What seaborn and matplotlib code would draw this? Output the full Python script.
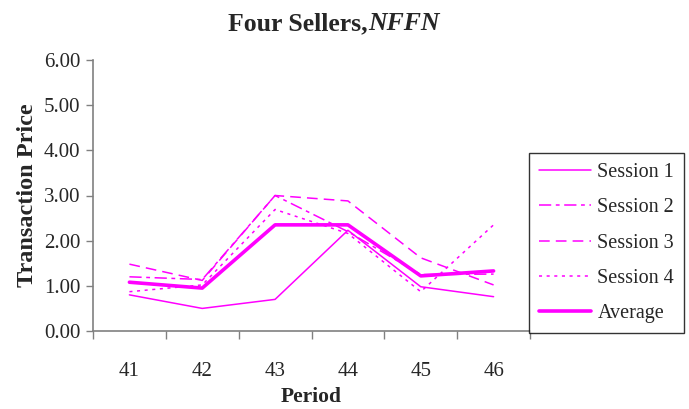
"""Four Sellers, NFFN - transaction price by period for four sessions plus average."""
import numpy as np
import pandas as pd
import matplotlib
matplotlib.use("Agg")
import matplotlib.pyplot as plt
import seaborn as sns
from matplotlib.ticker import FixedLocator

# values
periods = ["41", "42", "43", "44", "45", "46"]
session1 = [0.80, 0.50, 0.70, 2.23, 0.98, 0.76]
session2 = [1.20, 1.14, 3.00, 2.20, 1.25, 1.26]
session3 = [1.48, 1.12, 3.00, 2.88, 1.62, 1.02]
session4 = [0.87, 1.02, 2.69, 2.16, 0.87, 2.35]
average = [1.08, 0.95, 2.35, 2.35, 1.22, 1.33]

series = {
    "Session 1": session1,
    "Session 2": session2,
    "Session 3": session3,
    "Session 4": session4,
    "Average": average,
}
# (linewidth, dash pattern)
styles = {
    "Session 1": (1.1, None),
    "Session 2": (1.1, (8, 3, 2.5, 3)),
    "Session 3": (1.1, (7, 4)),
    "Session 4": (1.1, (2, 3)),
    "Average": (2.6, None),
}

sns.set_style("white")
plt.rcParams["font.family"] = ["Liberation Serif", "DejaVu Serif"]

rows = []
for name, vals in series.items():
    for i, v in enumerate(vals):
        rows.append({"pos": i, "price": v, "series": name})
df = pd.DataFrame(rows)

fig = plt.figure(figsize=(6.89, 4.09), dpi=100)
ax = fig.add_axes([93 / 689, 1 - 331 / 409, (530 - 93) / 689, (331 - 60) / 409])

magenta = "#FF00FF"
for name in series:
    lw, dash = styles[name]
    sub = df[df["series"] == name]
    sns.lineplot(data=sub, x="pos", y="price", ax=ax, color=magenta,
                 linewidth=lw, label=name, estimator=None)
    line = ax.get_lines()[-1]
    if dash is not None:
        line.set_dashes(dash)

ax.set_xlim(-0.5, 5.5)
ax.set_ylim(0, 6)

# category axis: tick marks between categories, labels at centres
ax.xaxis.set_major_locator(FixedLocator(np.arange(-0.5, 6.0, 1.0)))
ax.xaxis.set_minor_locator(FixedLocator(np.arange(0, 6)))
ax.set_xticklabels([""] * 7)
ax.set_xticklabels(periods, minor=True)
ax.tick_params(axis="x", which="major", length=6, width=1, color="#808080",
               direction="out", bottom=True)
ax.tick_params(axis="x", which="minor", length=0, pad=22, labelsize=15)

ax.set_yticks(np.arange(0, 7, 1))
ax.set_yticklabels([f"{v:.2f}" for v in range(7)])
ax.tick_params(axis="y", length=5, width=1, color="#808080", direction="out",
               left=True, pad=4, labelsize=15)

for side in ["top", "right"]:
    ax.spines[side].set_visible(False)
for side in ["left", "bottom"]:
    ax.spines[side].set_color("#808080")
    ax.spines[side].set_linewidth(1.2)

ax.set_xlabel("Period", fontsize=15.5, fontweight="bold", labelpad=5)
ax.set_ylabel("Transaction Price", fontsize=17.5, fontweight="bold", labelpad=4)

leg = ax.legend(loc="upper left", bbox_to_anchor=(529 / 689, 1 - 153 / 409),
                bbox_transform=fig.transFigure, frameon=True, fancybox=False,
                fontsize=14.5, handlelength=2.6, handletextpad=0.3,
                labelspacing=0.8, borderpad=0.5, borderaxespad=0)
leg.get_frame().set_edgecolor("black")
leg.get_frame().set_linewidth(1.0)

# title with italic part
ty = 1 - 30 / 409
fig.text(368 / 689, ty, "Four Sellers,", ha="right", va="baseline",
         fontsize=18.5, fontweight="bold")
fig.text(368 / 689, ty, "NFFN", ha="left", va="baseline",
         fontsize=18.5, fontweight="bold", fontstyle="italic")

fig.savefig("out.png", dpi=100)
